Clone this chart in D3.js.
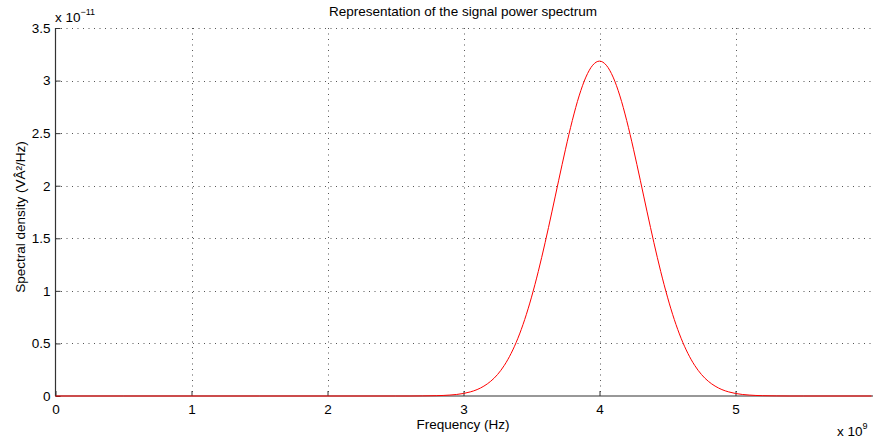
<!DOCTYPE html>
<html>
<head>
<meta charset="utf-8">
<script src="https://cdn.jsdelivr.net/npm/d3@7"></script>
<style>
  html, body { margin: 0; padding: 0; background: #fff; }
  svg { display: block; font-family: "Liberation Sans", Arial, sans-serif; }
</style>
</head>
<body>
<svg id="chart" width="873" height="438"></svg>
<script>
// Frequency samples (units of 1e9 Hz)
const freq = [0, 0.5, 1, 1.5, 2, 2.5, 2.6, 2.7, 2.8, 2.9, 3.0, 3.05, 3.1, 3.15, 3.2, 3.25, 3.3, 3.35, 3.4, 3.45,
  3.5, 3.55, 3.6, 3.65, 3.7, 3.75, 3.8, 3.85, 3.9, 3.95, 4.0, 4.05, 4.1, 4.15, 4.2, 4.25, 4.3, 4.35,
  4.4, 4.45, 4.5, 4.55, 4.6, 4.65, 4.7, 4.75, 4.8, 4.85, 4.9, 4.95, 5.0, 5.1, 5.2, 5.3, 5.4, 5.5, 6.0];
// Spectral density (units of 1e-11 V^2/Hz)
const density = [0, 0, 0, 0, 0, 0, 0, 0.001, 0.003, 0.009, 0.024, 0.039, 0.061, 0.094, 0.140, 0.204, 0.291, 0.405, 0.549, 0.727,
  0.940, 1.185, 1.458, 1.751, 2.052, 2.347, 2.620, 2.854, 3.033, 3.146, 3.185, 3.146, 3.033, 2.854, 2.620, 2.347, 2.052, 1.751,
  1.458, 1.185, 0.940, 0.727, 0.549, 0.405, 0.291, 0.204, 0.140, 0.094, 0.061, 0.039, 0.024, 0.009, 0.003, 0.001, 0, 0, 0];

const xTicks = [0, 1, 2, 3, 4, 5];
const yTicks = [0, 0.5, 1, 1.5, 2, 2.5, 3, 3.5];

const titleText = "Representation of the signal power spectrum";
const xLabel = "Frequency (Hz)";
const yLabel = "Spectral density (VÂ²/Hz)";

const svg = d3.select("#chart");
const x = d3.scaleLinear().domain([0, 6]).range([55.5, 871.5]);
const y = d3.scaleLinear().domain([0, 3.5]).range([396, 28]);

const axisColor = "#333";
const gridColor = "#555";
const fontSize = "13.5px";

// dotted grid
const grid = svg.append("g");
grid.selectAll("line.gx").data(xTicks.filter(d => d > 0)).join("line")
  .attr("x1", d => Math.round(x(d)) + 0.5).attr("x2", d => Math.round(x(d)) + 0.5)
  .attr("y1", y(3.5)).attr("y2", y(0))
  .attr("stroke", gridColor).attr("stroke-width", 1).attr("stroke-dasharray", "1,4.5");
grid.selectAll("line.gy").data(yTicks.filter(d => d > 0)).join("line")
  .attr("x1", x(0)).attr("x2", 873)
  .attr("y1", d => Math.round(y(d)) + 0.5).attr("y2", d => Math.round(y(d)) + 0.5)
  .attr("stroke", gridColor).attr("stroke-width", 1).attr("stroke-dasharray", "1,4.5");

// axes with inward ticks
const xAxis = svg.append("g").attr("transform", `translate(0,${y(0)})`)
  .call(d3.axisBottom(x).tickValues(xTicks).tickSize(-5).tickPadding(8).tickFormat(d3.format("d")));
const yAxis = svg.append("g").attr("transform", `translate(${x(0)},0)`)
  .call(d3.axisLeft(y).tickValues(yTicks).tickSize(-5).tickPadding(5).tickFormat(d => d3.format("")(d)));
[xAxis, yAxis].forEach(g => {
  g.select(".domain").attr("stroke", axisColor).attr("stroke-width", 1.2);
  g.selectAll(".tick line").attr("stroke", axisColor).attr("stroke-width", 1);
  g.selectAll(".tick text").attr("fill", "#000").style("font-size", fontSize)
    .style("font-family", "'Liberation Sans', Arial, sans-serif");
});
xAxis.select(".domain").attr("d", `M${x(0)},0H873`);
yAxis.select(".domain").attr("d", `M0,${y(0)}V${y(3.5)}`);

// spectrum curve
const line = d3.line()
  .x((d, i) => x(freq[i]))
  .y(d => y(d))
  .curve(d3.curveMonotoneX);
svg.append("path").datum(density)
  .attr("d", line)
  .attr("fill", "none")
  .attr("stroke", "#ff0000")
  .attr("stroke-width", 1);

// title and axis labels
svg.append("text").attr("x", 463).attr("y", 16).attr("text-anchor", "middle")
  .style("font-size", fontSize).text(titleText);
svg.append("text").attr("x", 463).attr("y", 429).attr("text-anchor", "middle")
  .style("font-size", fontSize).text(xLabel);
svg.append("text").attr("transform", "translate(25,217) rotate(-90)").attr("text-anchor", "middle")
  .style("font-size", fontSize).text(yLabel);

// exponent multipliers
const ey = svg.append("text").attr("x", 55).attr("y", 22).style("font-size", fontSize);
ey.append("tspan").text("x 10");
ey.append("tspan").attr("dy", -7).style("font-size", "9px").text("\u221211");
const ex = svg.append("text").attr("x", 837).attr("y", 436).style("font-size", fontSize);
ex.append("tspan").text("x 10");
ex.append("tspan").attr("dy", -7).style("font-size", "9px").text("9");
</script>
</body>
</html>
